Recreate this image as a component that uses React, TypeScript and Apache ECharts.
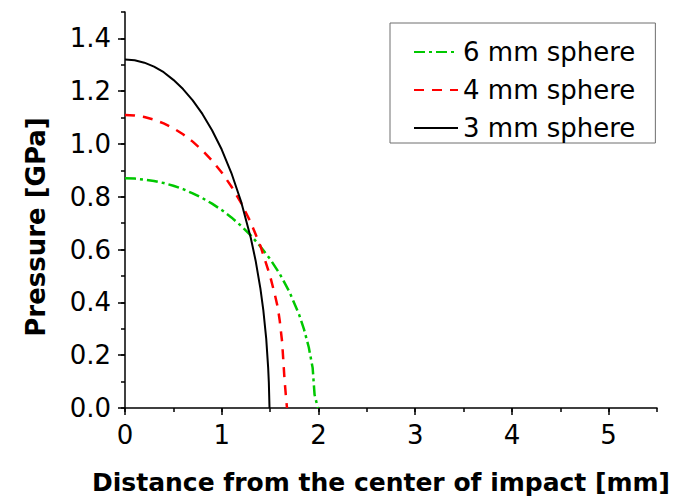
import React, { useEffect, useRef } from "react";
import * as echarts from "echarts";

const FONT = "DejaVu Sans";

const seriesNames = ["6 mm sphere", "4 mm sphere", "3 mm sphere"];

// [distance mm, pressure GPa]
const sphere6 = [
  [0, 0.87], [0.1, 0.869], [0.2, 0.865], [0.3, 0.86], [0.4, 0.852], [0.5, 0.842],
  [0.6, 0.829], [0.7, 0.813], [0.8, 0.795], [0.9, 0.774], [1.0, 0.75], [1.1, 0.722],
  [1.2, 0.69], [1.3, 0.654], [1.4, 0.612], [1.5, 0.564], [1.6, 0.508], [1.7, 0.44],
  [1.8, 0.354], [1.85, 0.299], [1.9, 0.23], [1.94, 0.152], [1.96, 0.05], [1.994, 0],
];
const sphere4 = [
  [0, 1.11], [0.1, 1.108], [0.2, 1.102], [0.3, 1.092], [0.4, 1.078], [0.5, 1.06],
  [0.6, 1.037], [0.7, 1.009], [0.8, 0.976], [0.9, 0.937], [1.0, 0.892], [1.1, 0.839],
  [1.2, 0.777], [1.3, 0.703], [1.4, 0.614], [1.5, 0.5], [1.55, 0.428], [1.58, 0.38],
  [1.6, 0.33], [1.625, 0.248], [1.649, 0.109], [1.667, 0.03], [1.675, 0],
];
const sphere3 = [
  [0, 1.32], [0.1, 1.317], [0.2, 1.308], [0.3, 1.293], [0.4, 1.272], [0.5, 1.243],
  [0.6, 1.208], [0.7, 1.165], [0.8, 1.114], [0.9, 1.052], [1.0, 0.979], [1.1, 0.89],
  [1.2, 0.782], [1.3, 0.645], [1.35, 0.559], [1.4, 0.452], [1.43, 0.371], [1.46, 0.263],
  [1.48, 0.153], [1.487, 0.097], [1.494, 0],
];

const xMajorTicks = [0, 1, 2, 3, 4, 5];
const yMajorTicks = [0, 0.2, 0.4, 0.6, 0.8, 1.0, 1.2, 1.4];

export default function App() {
  const ref = useRef<HTMLDivElement>(null);
  useEffect(() => {
    if (!ref.current) return;
    const chart = echarts.init(ref.current, undefined, { renderer: "svg" });
    const axisLineStyle = { color: "#000", width: 1.5 };
    const tickLabel = { fontSize: 26, fontFamily: FONT, color: "#000" };
    chart.setOption({
      animation: false,
      backgroundColor: "#fff",
      grid: { left: 125, right: 31, top: 12, bottom: 91, containLabel: false },
      legend: {
        data: seriesNames,
        orient: "vertical",
        left: 390,
        top: 23,
        borderColor: "#6e6e6e",
        borderWidth: 1,
        padding: [16, 20, 2, 23],
        itemGap: 12,
        itemWidth: 44,
        itemHeight: 14,
        itemStyle: { opacity: 0 },
        textStyle: { fontSize: 26, fontFamily: FONT, color: "#000" },
      },
      xAxis: [
        {
          type: "value",
          min: 0,
          max: 5.5,
          position: "bottom",
          axisLine: { show: true, onZero: false, lineStyle: axisLineStyle },
          axisTick: { show: true, length: 7, customValues: xMajorTicks, lineStyle: axisLineStyle },
          axisLabel: { customValues: xMajorTicks, margin: 14, ...tickLabel },
          splitLine: { show: false },
          name: "Distance from the center of impact [mm]",
          nameLocation: "middle",
          nameGap: 62,
          nameTextStyle: { fontSize: 25, fontWeight: "bold", fontFamily: FONT, color: "#000", padding: [0, 20, 0, 0] },
        },
        {
          type: "value",
          min: 0,
          max: 5.5,
          interval: 0.5,
          position: "bottom",
          axisLine: { show: false },
          axisTick: { show: true, length: 4, lineStyle: axisLineStyle },
          axisLabel: { show: false },
          splitLine: { show: false },
        },
      ],
      yAxis: [
        {
          type: "value",
          min: 0,
          max: 1.5,
          position: "left",
          axisLine: { show: true, onZero: false, lineStyle: axisLineStyle },
          axisTick: { show: true, length: 7, customValues: yMajorTicks, lineStyle: axisLineStyle },
          axisLabel: { customValues: yMajorTicks, margin: 14, formatter: (v: number) => v.toFixed(1), ...tickLabel },
          splitLine: { show: false },
          name: "Pressure [GPa]",
          nameLocation: "middle",
          nameRotate: 90,
          nameGap: 76,
          nameTextStyle: { fontSize: 26, fontWeight: "bold", fontFamily: FONT, color: "#000", padding: [0, 34, 0, 0] },
        },
        {
          type: "value",
          min: 0,
          max: 1.5,
          interval: 0.1,
          position: "left",
          axisLine: { show: false },
          axisTick: { show: true, length: 4, lineStyle: axisLineStyle },
          axisLabel: { show: false },
          splitLine: { show: false },
        },
      ],
      series: [
        {
          name: seriesNames[0],
          type: "line",
          data: sphere6,
          xAxisIndex: 0,
          yAxisIndex: 0,
          symbol: "none",
          showSymbol: false,
          lineStyle: { color: "#00c800", width: 2.5, type: [11, 4, 3, 4] },
          itemStyle: { color: "#00c800" },
        },
        {
          name: seriesNames[1],
          type: "line",
          data: sphere4,
          xAxisIndex: 0,
          yAxisIndex: 0,
          symbol: "none",
          showSymbol: false,
          lineStyle: { color: "#ff0000", width: 2.5, type: [10, 8] },
          itemStyle: { color: "#ff0000" },
        },
        {
          name: seriesNames[2],
          type: "line",
          data: sphere3,
          xAxisIndex: 0,
          yAxisIndex: 0,
          symbol: "none",
          showSymbol: false,
          lineStyle: { color: "#000000", width: 2, type: "solid" },
          itemStyle: { color: "#000000" },
        },
      ],
    });
    return () => chart.dispose();
  }, []);
  return (
    <div
      ref={ref}
      style={{ position: "fixed", left: 0, top: 0, width: 688, height: 500 }}
    />
  );
}
